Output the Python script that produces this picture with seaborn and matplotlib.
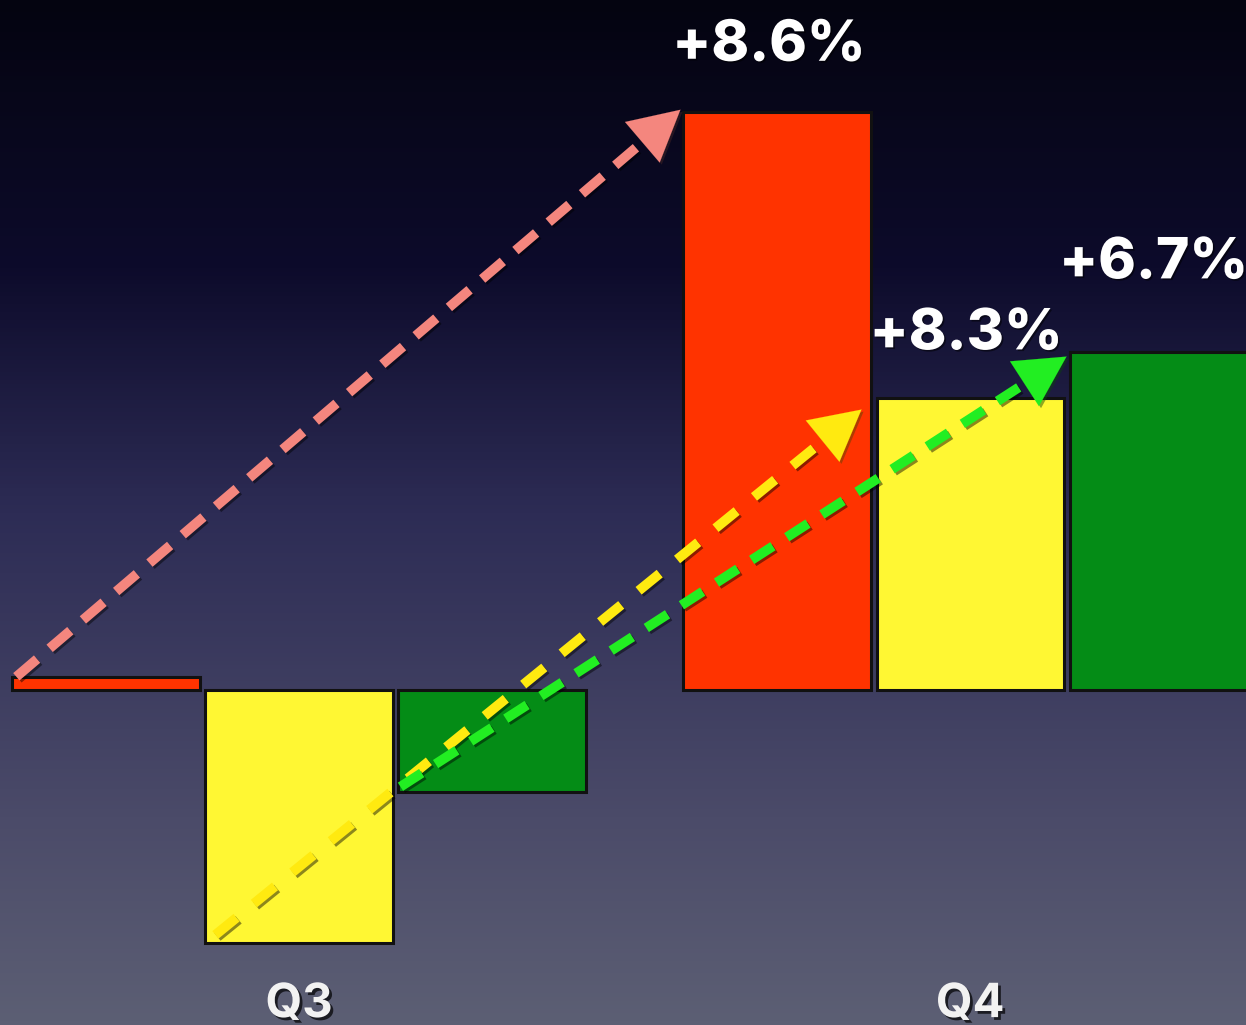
import numpy as np
import pandas as pd
import matplotlib
matplotlib.use("Agg")
import matplotlib.pyplot as plt
import matplotlib.patheffects as pe
from matplotlib.colors import LinearSegmentedColormap
import seaborn as sns

# Quarterly values per segment (percent)
quarters = ["Q3", "Q4"]
segments = ["A", "B", "C"]
q3_values = [0.2, -3.85, -1.55]
q4_values = [8.8, 4.45, 5.15]

bar_colors = ["#ff3300", "#fff733", "#048c16"]
arrow_colors = ["#f4867e", "#ffea10", "#22ee22"]

df = pd.DataFrame({
    "quarter": np.repeat(quarters, len(segments)),
    "segment": segments * len(quarters),
    "value": q3_values + q4_values,
})

sns.set_theme(style="white")
plt.rcParams["font.family"] = ["Liberation Sans", "DejaVu Sans"]

fig = plt.figure(figsize=(12.46, 10.25), dpi=100)
ax = fig.add_axes([0, 0, 1, 1])

XMIN, XMAX = -0.4456, 1.411
YMIN, YMAX = -5.10, 10.50

# vertical background gradient
bg = LinearSegmentedColormap.from_list(
    "bg", [(0.0, "#5c5f74"), (0.20, "#4b4b69"), (0.50, "#2d2c55"),
           (0.74, "#0d0b2b"), (1.0, "#040410")])
grad = np.linspace(0, 1, 256).reshape(-1, 1)
ax.imshow(grad, cmap=bg, origin="lower", aspect="auto",
          extent=[XMIN, XMAX, YMIN, YMAX], zorder=0)

sns.barplot(data=df, x="quarter", y="value", hue="segment",
            palette=bar_colors, width=0.863, gap=0.03,
            edgecolor="#111111", linewidth=2.2, saturation=1,
            legend=False, ax=ax, zorder=2)

ax.set_xlim(XMIN, XMAX)
ax.set_ylim(YMIN, YMAX)
ax.axis("off")

fig.canvas.draw()

# bar geometry from the drawn patches
patches = sorted(ax.patches, key=lambda p: p.get_x())
q3_bars = patches[:3]
q4_bars = patches[3:6]

to_disp = ax.transData.transform
to_data = ax.transData.inverted().transform

shadow = [pe.SimpleLineShadow(offset=(1.5, -1.5), shadow_color="black", alpha=0.45),
          pe.Normal()]

start_dx = [4, 10, 2]   # pixel nudges from the bar's left edge
start_dy = [0, 8, 5]
end_dx = [-3, -15, -3]
end_dy = [2, -12, -5]
dash_patterns = [(2.8, 1.7), (2.8, 2.3), (2.6, 1.7)]

for i in range(3):
    b3, b4 = q3_bars[i], q4_bars[i]
    p0 = to_disp((b3.get_x(), q3_values[i])) + np.array([start_dx[i], start_dy[i]])
    p1 = to_disp((b4.get_x(), q4_values[i])) + np.array([end_dx[i], end_dy[i]])
    d = p1 - p0
    u = d / np.hypot(*d)
    head_len = 38
    pm = p1 - u * (head_len - 4)
    a, m, e = to_data(p0), to_data(pm), to_data(p1)
    ax.plot([a[0], m[0]], [a[1], m[1]], color=arrow_colors[i], lw=7,
            dashes=dash_patterns[i], solid_capstyle="butt", dash_capstyle="butt",
            zorder=4, path_effects=shadow)
    back = to_data(p1 - u * head_len)
    ax.annotate("", xy=(e[0], e[1]), xytext=(back[0], back[1]),
                arrowprops=dict(arrowstyle="-|>,head_length=1.5,head_width=0.8",
                                color=arrow_colors[i], lw=0.1, mutation_scale=24,
                                shrinkA=0, shrinkB=0,
                                path_effects=[pe.SimplePatchShadow(offset=(1.5, -1.5), alpha=0.45),
                                              pe.Normal()]),
                zorder=5)

# change labels above the Q4 bars
label_dx = [-6, -3, -7]
label_dy = [28, 26, 44]
text_fx = [pe.withSimplePatchShadow(offset=(1.2, -1.2), shadow_rgbFace="black", alpha=0.5)]
for i in range(3):
    b4 = q4_bars[i]
    change = q4_values[i] - q3_values[i]
    ax.annotate(f"+{change:.1f}%", xy=(b4.get_x() + b4.get_width() / 2, q4_values[i]),
                xytext=(label_dx[i], label_dy[i]), textcoords="offset points",
                ha="center", va="bottom", fontsize=41, fontweight=800,
                family=["Inter", "Liberation Sans"],
                color="white", zorder=6, path_effects=text_fx)

# quarter labels
q_fx = [pe.withSimplePatchShadow(offset=(2, -2), shadow_rgbFace="black", alpha=0.7)]
for j, q in enumerate(quarters):
    ax.text(j, -4.98, q, ha="center", va="baseline", fontsize=34, fontweight="bold",
            family=["Inter", "Liberation Sans"],
            color="#f2f2f2", zorder=6, path_effects=q_fx)

fig.savefig("out.png", dpi=100)
